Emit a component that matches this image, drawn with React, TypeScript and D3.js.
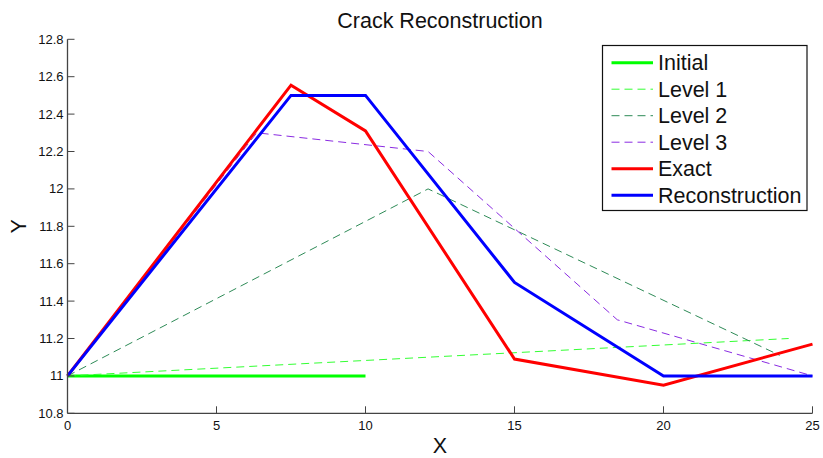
import React from "react";
import * as d3 from "d3";

const xTicks = [0, 5, 10, 15, 20, 25];
const yTicks = [10.8, 11, 11.2, 11.4, 11.6, 11.8, 12, 12.2, 12.4, 12.6, 12.8];
const yTickLabels = ["10.8", "11", "11.2", "11.4", "11.6", "11.8", "12", "12.2", "12.4", "12.6", "12.8"];

const initialX = [0, 10];
const initialY = [11, 11];
const level1X = [0, 24.2];
const level1Y = [11, 11.2];
const level2X = [0, 12.1, 23.9];
const level2Y = [11, 12.0, 11.11];
const level3X = [0, 6.35, 12.1, 18.45, 25];
const level3Y = [11, 12.3, 12.2, 11.3, 11.0];
const exactX = [0, 7.5, 10, 15, 20, 25];
const exactY = [11, 12.555, 12.31, 11.09, 10.95, 11.17];
const reconX = [0, 7.5, 10, 15, 20, 25];
const reconY = [11, 12.5, 12.5, 11.5, 11, 11];

const series = [
  { name: "Initial", xs: initialX, ys: initialY, color: "#00ff00", width: 3, dash: "" },
  { name: "Level 1", xs: level1X, ys: level1Y, color: "#33ff33", width: 1, dash: "8,5" },
  { name: "Level 2", xs: level2X, ys: level2Y, color: "#2e8b57", width: 1, dash: "8,5" },
  { name: "Level 3", xs: level3X, ys: level3Y, color: "#8a2be2", width: 1, dash: "8,5" },
  { name: "Exact", xs: exactX, ys: exactY, color: "#ff0000", width: 3, dash: "" },
  { name: "Reconstruction", xs: reconX, ys: reconY, color: "#0000ff", width: 3, dash: "" },
];

export default function App() {
  const W = 823, H = 458;
  const x = d3.scaleLinear().domain([0, 25]).range([67.5, 812.5]);
  const y = d3.scaleLinear().domain([10.8, 12.8]).range([413.3, 39.3]);
  const line = d3.line<[number, number]>().x(d => x(d[0])).y(d => y(d[1]));
  const font = "'Liberation Sans', Arial, Helvetica, sans-serif";
  const legX = 602.5, legY = 45.5, legW = 204.5, legH = 165;
  return (
    <svg width={W} height={H} style={{ position: "absolute", left: 0, top: 0, background: "#fff" }} fontFamily={font}>
      <rect x={0} y={0} width={W} height={H} fill="#fff" />
      {series.map(s => (
        <path key={s.name} d={line(s.xs.map((v, i) => [v, s.ys[i]]) as [number, number][]) || ""}
          fill="none" stroke={s.color} strokeWidth={s.width} strokeDasharray={s.dash || undefined}
          strokeLinejoin="miter" />
      ))}
      {/* axes */}
      <line x1={x(0)} x2={x(0)} y1={y(12.8)} y2={y(10.8)} stroke="#444" strokeWidth={1.3} />
      <line x1={x(0)} x2={x(25)} y1={y(10.8)} y2={y(10.8)} stroke="#444" strokeWidth={1.3} />
      {yTicks.map((t, i) => (
        <g key={"y" + i}>
          <line x1={x(0)} x2={x(0) + 7} y1={y(t)} y2={y(t)} stroke="#444" strokeWidth={1} />
          <text x={x(0) - 4} y={y(t)} dy="0.35em" textAnchor="end" fontSize={13} fill="#111">{yTickLabels[i]}</text>
        </g>
      ))}
      {xTicks.map((t, i) => (
        <g key={"x" + i}>
          <line x1={x(t)} x2={x(t)} y1={y(10.8)} y2={y(10.8) - 7} stroke="#444" strokeWidth={1} />
          <text x={x(t)} y={y(10.8) + 17} textAnchor="middle" fontSize={13} fill="#111">{String(t)}</text>
        </g>
      ))}
      <text x={440} y={28} textAnchor="middle" fontSize={21.5} fill="#111">Crack Reconstruction</text>
      <text x={440} y={453} textAnchor="middle" fontSize={21.5} fill="#111">X</text>
      <text transform={`translate(26,226.3) rotate(-90)`} textAnchor="middle" fontSize={21.5} fill="#111">Y</text>
      {/* legend */}
      <rect x={legX} y={legY} width={legW} height={legH} fill="#fff" stroke="#111" strokeWidth={1.2} />
      {series.map((s, i) => {
        const ly = 62.7 + i * 26.5;
        return (
          <g key={"l" + i}>
            <line x1={611.5} x2={653} y1={ly} y2={ly} stroke={s.color} strokeWidth={s.width} strokeDasharray={s.dash || undefined} />
            <text x={658} y={ly} dy="0.35em" fontSize={21.5} fill="#111">{s.name}</text>
          </g>
        );
      })}
    </svg>
  );
}
